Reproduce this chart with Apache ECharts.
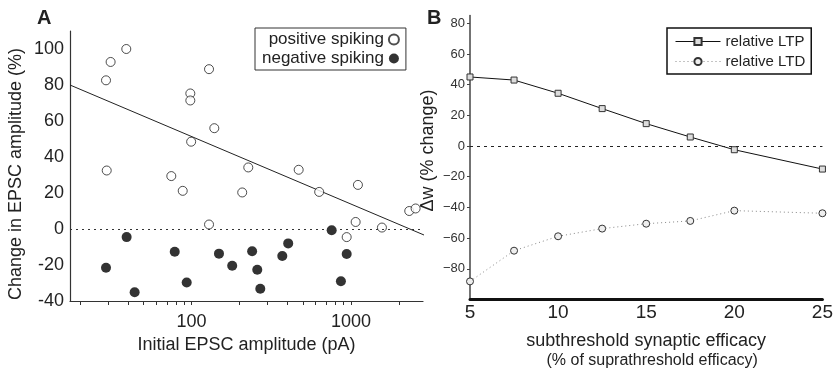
<!DOCTYPE html>
<html>
<head>
<meta charset="utf-8">
<script src="https://cdn.jsdelivr.net/npm/echarts@6/dist/echarts.min.js"></script>
<style>
  html, body { margin: 0; padding: 0; background: #fff; }
  #chart { width: 836px; height: 374px; }
</style>
</head>
<body>
<div id="chart"></div>
<script>
// panel A: initial EPSC amplitude (pA) vs change in EPSC amplitude (%)
var posAmp    = [29.1, 31.1, 39.0, 29.4, 128.8, 98.3, 98.3, 139, 99.5, 74.7, 88.1, 227, 208, 470, 632, 1106, 128.8, 1070, 1564, 2320, 2544, 940];
var posChange = [82.6, 92.8, 100, 32.5, 88.8, 75.3, 71.4, 56, 48.5, 29.4, 21.2, 34.2, 20.3, 32.9, 20.6, 24.5, 2.5, 3.9, 0.8, 10.0, 11.4, -4.5];
var negAmp    = [29.1, 39.2, 44.0, 78.5, 93.3, 148.7, 180, 240, 258.5, 270, 371, 404, 757, 940, 865];
var negChange = [-21.5, -4.5, -35.1, -12.6, -29.7, -13.7, -20.4, -12.4, -22.6, -33.2, -15, -8, -0.7, -13.9, -29];
var fitAmp    = [17.3, 2990];
var fitChange = [80, -4];
var ampTicks  = [20, 30, 40, 50, 60, 70, 80, 90, 100, 200, 300, 400, 500, 600, 700, 800, 900, 1000, 2000];
var ampLabels = [100, 1000];
var changeLabels = [-40, -20, 0, 20, 40, 60, 80, 100];

// panel B: subthreshold efficacy vs relative LTP / LTD
var efficacy = [5, 7.5, 10, 12.5, 15, 17.5, 20, 25];
var ltp = [45, 43, 34.4, 24.4, 14.6, 5.9, -2.4, -15.0];
var ltd = [-88.2, -68.2, -58.8, -53.8, -50.6, -48.8, -42.1, -43.8];
var dwLabels = [-80, -60, -40, -20, 0, 20, 40, 60, 80];

function pairs(xs, ys) {
  return xs.map(function (x, i) { return [x, ys[i]]; });
}

var font = 'Liberation Sans, Arial, sans-serif';
var ink = '#222';

var chart = echarts.init(document.getElementById('chart'));
var option = {
  backgroundColor: '#fff',
  animation: false,
  textStyle: { fontFamily: font, color: ink },
  graphic: [
    { type: 'text', left: 37, top: 8, style: { text: 'A', font: 'bold 20px ' + font, fill: ink } },
    { type: 'text', left: 427, top: 8, style: { text: 'B', font: 'bold 20px ' + font, fill: ink } }
  ],
  legend: [
    {
      orient: 'vertical',
      left: 255, top: 28,
      align: 'right',
      padding: [3, 6, 3, 7],
      itemGap: 2,
      itemWidth: 10, itemHeight: 10,
      borderColor: '#333', borderWidth: 1,
      textStyle: { fontSize: 17, color: ink, fontFamily: font },
      data: ['positive spiking', 'negative spiking']
    },
    {
      orient: 'vertical',
      left: 667, top: 28,
      padding: [6, 6, 5, 8],
      itemGap: 5,
      itemWidth: 45, itemHeight: 9,
      borderColor: '#111', borderWidth: 1.5,
      lineStyle: { width: 1 },
      textStyle: { fontSize: 15, color: ink, fontFamily: font },
      data: ['relative LTP', 'relative LTD']
    }
  ],
  grid: [
    { left: 70, top: 31, width: 353, height: 270 },
    { left: 470, top: 15.6, width: 353, height: 285.3 }
  ],
  xAxis: [
    {
      gridIndex: 0,
      type: 'log',
      logBase: 10,
      min: 17.3, max: 2830,
      name: 'Initial EPSC amplitude (pA)',
      nameLocation: 'middle',
      nameGap: 35,
      nameTextStyle: { fontSize: 18, color: ink },
      axisLine: { onZero: false, lineStyle: { color: '#333', width: 1.2 } },
      axisTick: { show: true, inside: false, length: 4, customValues: ampTicks, lineStyle: { color: '#333' } },
      minorTick: { show: false },
      splitLine: { show: false },
      axisLabel: {
        customValues: ampLabels,
        fontSize: 18, color: ink, margin: 12,
        formatter: function (v) { return String(Math.round(v)); }
      }
    },
    {
      gridIndex: 1,
      type: 'value',
      min: 5, max: 25, interval: 5,
      name: '{a|subthreshold synaptic efficacy}\n{b|(% of suprathreshold efficacy)}',
      nameLocation: 'middle',
      nameGap: 32,
      nameTextStyle: {
        rich: {
          a: { fontSize: 18, color: ink, fontFamily: font, lineHeight: 20, align: 'center' },
          b: { fontSize: 16, color: ink, fontFamily: font, lineHeight: 19, padding: [0, 0, 0, 12] }
        }
      },
      axisLine: { onZero: false, lineStyle: { color: '#111', width: 3 } },
      axisTick: { show: false },
      splitLine: { show: false },
      axisLabel: { fontSize: 19, color: ink, margin: 4 }
    }
  ],
  yAxis: [
    {
      gridIndex: 0,
      type: 'value',
      min: -40, max: 110, interval: 20,
      name: 'Change in EPSC amplitude (%)',
      nameLocation: 'middle',
      nameGap: 45,
      nameTextStyle: { fontSize: 18, color: ink, padding: [0, 16, 0, 0] },
      axisLine: { show: true, lineStyle: { color: '#333', width: 1.2 } },
      axisTick: { show: false },
      splitLine: { show: false },
      axisLabel: { customValues: changeLabels, fontSize: 18, color: ink, margin: 6 }
    },
    {
      gridIndex: 1,
      type: 'value',
      min: -100, max: 85, interval: 20,
      name: 'Δw (% change)',
      nameLocation: 'middle',
      nameGap: 33,
      nameTextStyle: { fontSize: 18, color: ink, padding: [0, 0, 0, 14] },
      axisLine: { show: true, lineStyle: { color: '#444', width: 1.5 } },
      axisTick: { show: true, length: 3, customValues: dwLabels, lineStyle: { color: '#444' } },
      splitLine: { show: false },
      axisLabel: {
        customValues: dwLabels,
        fontSize: 13, color: '#333', margin: 5,
        formatter: function (v) { return v < 0 ? '\u2212' + Math.abs(v) : String(v); }
      }
    }
  ],
  series: [
    {
      name: 'fit',
      type: 'line',
      xAxisIndex: 0, yAxisIndex: 0,
      data: pairs(fitAmp, fitChange),
      showSymbol: false,
      clip: false,
      lineStyle: { color: ink, width: 1 },
      z: 1
    },
    {
      name: 'positive spiking',
      type: 'scatter',
      xAxisIndex: 0, yAxisIndex: 0,
      data: pairs(posAmp, posChange),
      symbol: 'circle',
      symbolSize: 9,
      itemStyle: { color: '#fff', borderColor: ink, borderWidth: 1 },
      markLine: {
        silent: true,
        symbol: ['none', 'none'],
        label: { show: false },
        lineStyle: { color: '#333', type: [2, 4], width: 1 },
        data: [{ yAxis: 0 }]
      },
      z: 3
    },
    {
      name: 'negative spiking',
      type: 'scatter',
      xAxisIndex: 0, yAxisIndex: 0,
      data: pairs(negAmp, negChange),
      symbol: 'circle',
      symbolSize: 10,
      itemStyle: { color: '#000', borderColor: '#000', borderWidth: 0 },
      z: 3
    },
    {
      name: 'relative LTP',
      type: 'line',
      xAxisIndex: 1, yAxisIndex: 1,
      data: pairs(efficacy, ltp),
      symbol: 'rect',
      symbolSize: 6,
      lineStyle: { color: '#111', width: 1 },
      itemStyle: { color: '#ddd', borderColor: '#333', borderWidth: 1 },
      markLine: {
        silent: true,
        symbol: ['none', 'none'],
        label: { show: false },
        lineStyle: { color: '#222', type: [3, 4], width: 1 },
        data: [{ yAxis: 0 }]
      }
    },
    {
      name: 'relative LTD',
      type: 'line',
      xAxisIndex: 1, yAxisIndex: 1,
      data: pairs(efficacy, ltd),
      symbol: 'circle',
      symbolSize: 7,
      lineStyle: { color: '#888', width: 1, type: [1, 3] },
      itemStyle: { color: '#eee', borderColor: '#333', borderWidth: 1 }
    }
  ]
};
chart.setOption(option);
</script>
</body>
</html>
